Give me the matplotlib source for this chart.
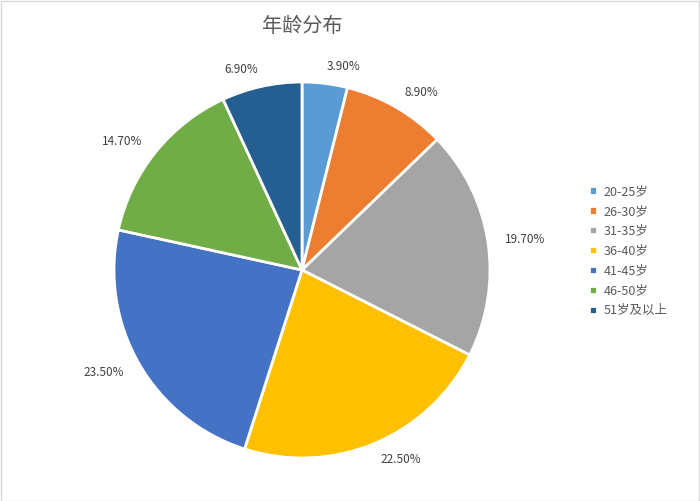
import matplotlib.pyplot as plt
from matplotlib.patches import Rectangle

plt.rcParams['font.family'] = ['Noto Sans CJK SC', 'DejaVu Sans']

groups = ['20-25岁', '26-30岁', '31-35岁', '36-40岁', '41-45岁', '46-50岁', '51岁及以上']
shares = [3.9, 8.9, 19.7, 22.5, 23.5, 14.7, 6.9]
colors = ['#5B9BD5', '#ED7D31', '#A5A5A5', '#FFC000', '#4472C4', '#70AD47', '#255E91']

W, H = 700, 501
fig = plt.figure(figsize=(W / 100, H / 100), dpi=100)

# pie centre ~(302, 270) px, radius ~188 px
cx, cy, r = 302, 270, 188
ax = fig.add_axes([(cx - r) / W, (H - cy - r) / H, 2 * r / W, 2 * r / H])

wedges, texts = ax.pie(shares, colors=colors, startangle=90, counterclock=False,
                       labels=[f'{v:.2f}%' for v in shares], labeldistance=1.09,
                       wedgeprops=dict(edgecolor='white', linewidth=2),
                       textprops=dict(fontsize=8.5, color='#404040'))
ax.set_xlim(-1, 1)
ax.set_ylim(-1, 1)
ax.set_aspect('equal')

fig.text(cx / W, 1 - 27 / H, '年龄分布', ha='center', va='center',
         fontsize=14.5, color='#595959')

fig.legend(wedges, groups, loc='center left', bbox_to_anchor=(578 / W, 1 - 251 / H),
           frameon=False, fontsize=9, labelcolor='#595959',
           handlelength=0.65, handleheight=0.65, handletextpad=0.5, labelspacing=0.55)

fig.patches.append(Rectangle((0.5 / W, 0.5 / H), 1 - 1.5 / W, 1 - 1.5 / H,
                             transform=fig.transFigure, fill=False,
                             edgecolor='#D9D9D9', linewidth=1))

fig.savefig('out.png', dpi=100)
